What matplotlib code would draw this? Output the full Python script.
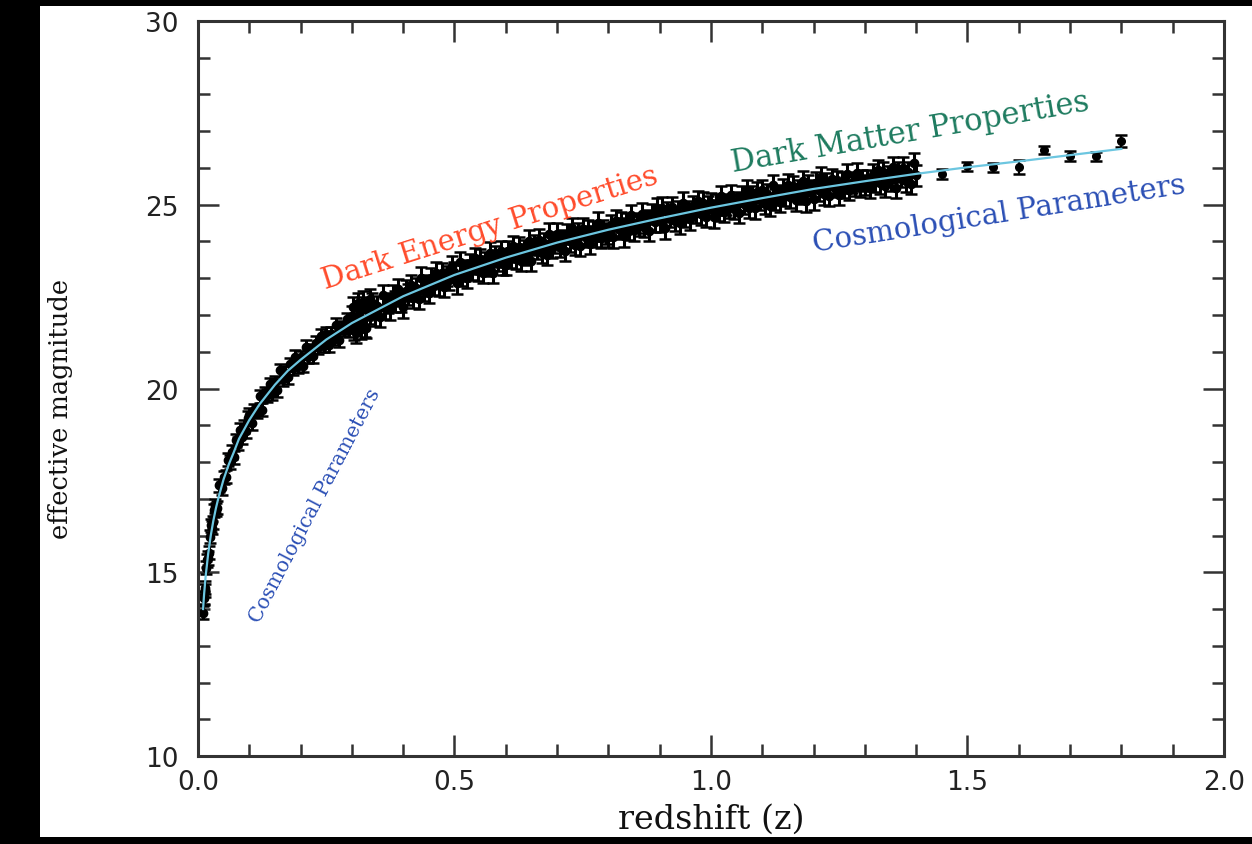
import matplotlib
matplotlib.use("Agg")
import matplotlib.pyplot as plt
from matplotlib.patches import Rectangle
from matplotlib.ticker import MultipleLocator

# model curve
z_curve = [0.010, 0.012, 0.015, 0.020, 0.025, 0.030, 0.035, 0.040, 0.050, 0.060,
           0.070, 0.080, 0.100, 0.120, 0.150, 0.175, 0.200, 0.250, 0.300, 0.400,
           0.500, 0.600, 0.700, 0.800, 0.900, 1.000, 1.100, 1.200, 1.300, 1.400,
           1.500, 1.600, 1.700, 1.800]
m_curve = [14.00, 14.40, 14.89, 15.51, 16.00, 16.40, 16.74, 17.03, 17.53, 17.93,
           18.27, 18.63, 19.14, 19.57, 20.10, 20.48, 20.78, 21.33, 21.78, 22.51,
           23.09, 23.56, 23.97, 24.32, 24.63, 24.92, 25.18, 25.43, 25.64, 25.84,
           26.02, 26.18, 26.35, 26.52]

# nearby supernovae (z < 0.3)
z_near = [0.010, 0.011, 0.012, 0.013, 0.014, 0.016, 0.018, 0.020, 0.022, 0.024,
          0.026, 0.028, 0.030, 0.032, 0.034, 0.036, 0.038, 0.042, 0.046, 0.050,
          0.054, 0.058, 0.062, 0.066, 0.070, 0.074, 0.078, 0.082, 0.086, 0.090,
          0.094, 0.098,
          0.100, 0.105, 0.110, 0.115, 0.120, 0.125, 0.130, 0.135, 0.140, 0.145,
          0.150, 0.155, 0.160, 0.165, 0.170, 0.175, 0.180, 0.185, 0.190, 0.195,
          0.200, 0.205, 0.210, 0.215, 0.220, 0.225, 0.230, 0.235, 0.240, 0.245,
          0.250, 0.255, 0.260, 0.265, 0.270, 0.275, 0.280, 0.285, 0.290, 0.295]
m_near = [13.90, 14.29, 14.32, 14.51, 14.58, 15.12, 15.33, 15.39, 15.53, 15.97,
          16.28, 16.21, 16.36, 16.69, 16.80, 16.70, 16.76, 17.37, 17.28, 17.58,
          17.60, 18.06, 18.00, 18.27, 18.13, 18.59, 18.50, 18.88, 18.68, 18.96,
          18.84, 19.21,
          19.29, 19.05, 19.41, 19.37, 19.79, 19.42, 19.85, 19.81, 20.11, 19.87,
          20.17, 19.96, 20.50, 20.26, 20.43, 20.30, 20.66, 20.55, 20.86, 20.60,
          20.85, 20.62, 21.14, 20.87, 21.03, 20.88, 21.24, 21.12, 21.43, 21.16,
          21.48, 21.18, 21.48, 21.37, 21.74, 21.32, 21.65, 21.62, 21.88, 21.59]
err_near = 0.18

# dense survey sample (0.3 < z < 1.4)
z_survey = [0.300, 0.305, 0.310, 0.315, 0.320, 0.325, 0.330, 0.335, 0.340, 0.345,
            0.350, 0.355, 0.360, 0.365, 0.370, 0.375, 0.380, 0.385, 0.390, 0.395,
            0.400, 0.405, 0.410, 0.415, 0.420, 0.425, 0.430, 0.435, 0.440, 0.445,
            0.450, 0.455, 0.460, 0.465, 0.470, 0.475, 0.480, 0.485, 0.490, 0.495,
            0.500, 0.505, 0.510, 0.515, 0.520, 0.525, 0.530, 0.535, 0.540, 0.545,
            0.550, 0.555, 0.560, 0.565, 0.570, 0.575, 0.580, 0.585, 0.590, 0.595,
            0.600, 0.605, 0.610, 0.615, 0.620, 0.625, 0.630, 0.635, 0.640, 0.645,
            0.650, 0.655, 0.660, 0.665, 0.670, 0.675, 0.680, 0.685, 0.690, 0.695,
            0.700, 0.705, 0.710, 0.715, 0.720, 0.725, 0.730, 0.735, 0.740, 0.745,
            0.750, 0.755, 0.760, 0.765, 0.770, 0.775, 0.780, 0.785, 0.790, 0.795,
            0.800, 0.805, 0.810, 0.815, 0.820, 0.825, 0.830, 0.835, 0.840, 0.845,
            0.850, 0.855, 0.860, 0.865, 0.870, 0.875, 0.880, 0.885, 0.890, 0.895,
            0.900, 0.905, 0.910, 0.915, 0.920, 0.925, 0.930, 0.935, 0.940, 0.945,
            0.950, 0.955, 0.960, 0.965, 0.970, 0.975, 0.980, 0.985, 0.990, 0.995,
            1.000, 1.005, 1.010, 1.015, 1.020, 1.025, 1.030, 1.035, 1.040, 1.045,
            1.050, 1.055, 1.060, 1.065, 1.070, 1.075, 1.080, 1.085, 1.090, 1.095,
            1.100, 1.105, 1.110, 1.115, 1.120, 1.125, 1.130, 1.135, 1.140, 1.145,
            1.150, 1.155, 1.160, 1.165, 1.170, 1.175, 1.180, 1.185, 1.190, 1.195,
            1.200, 1.205, 1.210, 1.215, 1.220, 1.225, 1.230, 1.235, 1.240, 1.245,
            1.250, 1.255, 1.260, 1.265, 1.270, 1.275, 1.280, 1.285, 1.290, 1.295,
            1.300, 1.305, 1.310, 1.315, 1.320, 1.325, 1.330, 1.335, 1.340, 1.345,
            1.350, 1.355, 1.360, 1.365, 1.370, 1.375, 1.380, 1.385, 1.390, 1.395,
            1.400,
            0.302, 0.308, 0.312, 0.318, 0.322, 0.328, 0.335]
m_survey = [21.96, 21.60, 21.91, 21.82, 22.21, 21.68, 22.14, 22.04, 22.32, 21.98,
            22.25, 21.95, 22.54, 22.18, 22.33, 22.15, 22.53, 22.37, 22.70, 22.36,
            22.21, 22.66, 22.55, 22.82, 22.47, 22.74, 22.43, 23.02, 22.65, 22.80,
            22.61, 22.99, 22.82, 23.15, 22.81, 23.13, 22.76, 23.06, 22.96, 23.33,
            23.17, 22.86, 23.44, 23.07, 23.21, 23.02, 23.39, 23.22, 23.54, 23.20,
            23.52, 23.14, 23.43, 23.33, 23.70, 23.15, 23.59, 23.48, 23.74, 23.38,
            23.36, 23.73, 23.55, 23.88, 23.53, 23.85, 23.47, 23.76, 23.65, 24.02,
            23.47, 23.91, 23.79, 24.05, 23.69, 23.95, 23.63, 24.21, 23.83, 23.97,
            24.21, 23.85, 24.04, 23.75, 24.20, 24.00, 24.37, 23.91, 24.21, 23.89,
            24.35, 24.14, 24.31, 23.93, 24.28, 24.13, 24.51, 24.09, 24.30, 24.22,
            24.13, 24.44, 24.11, 24.57, 24.35, 24.53, 24.14, 24.49, 24.33, 24.72,
            24.30, 24.50, 24.42, 24.76, 24.40, 24.58, 24.29, 24.75, 24.54, 24.91,
            24.55, 24.92, 24.36, 24.80, 24.67, 24.93, 24.56, 24.82, 24.49, 25.06,
            24.67, 24.81, 24.60, 24.97, 24.78, 25.10, 24.74, 25.06, 24.67, 24.96,
            25.05, 24.66, 25.01, 24.85, 25.23, 24.81, 25.01, 24.92, 25.26, 24.90,
            25.08, 24.78, 25.24, 25.03, 25.39, 24.92, 25.23, 24.90, 25.35, 25.13,
            25.40, 25.03, 25.28, 24.96, 25.53, 25.14, 25.27, 25.07, 25.43, 25.24,
            25.55, 25.20, 25.51, 25.12, 25.40, 25.29, 25.65, 25.09, 25.52, 25.40,
            25.15, 25.60, 25.39, 25.75, 25.28, 25.58, 25.25, 25.70, 25.48, 25.65,
            25.26, 25.61, 25.45, 25.83, 25.40, 25.60, 25.51, 25.85, 25.48, 25.66,
            25.54, 25.67, 25.46, 25.82, 25.63, 25.94, 25.58, 25.89, 25.50, 25.78,
            25.66, 26.02, 25.46, 25.89, 25.76, 26.01, 25.64, 25.89, 25.56, 26.13,
            25.80,
            22.22, 21.51, 22.33, 21.63, 22.36, 21.65, 22.44]
err_survey = 0.28

# sparse high-redshift points
z_far = [1.45, 1.50, 1.55, 1.60, 1.65, 1.70, 1.75, 1.80]
m_far = [25.84, 26.05, 26.02, 26.02, 26.49, 26.32, 26.32, 26.74]
e_far = [0.13, 0.12, 0.12, 0.19, 0.12, 0.14, 0.12, 0.16]

x_ticks = [0.0, 0.5, 1.0, 1.5, 2.0]
x_ticklabels = ['0.0', '0.5', '1.0', '1.5', '2.0']
y_ticks = [10, 15, 20, 25, 30]
y_ticklabels = ['10', '15', '20', '25', '30']

fig = plt.figure(figsize=(12.52, 8.45), dpi=100, facecolor='black')
fig.patches.append(Rectangle((0.032, 0.0083), 0.968, 0.9834, transform=fig.transFigure,
                             facecolor='white', edgecolor='none', zorder=-5))
ax = fig.add_axes([0.1581, 0.1041, 0.8195, 0.8699])
ax.set_facecolor('white')

eb = dict(fmt='o', ms=6, color='black', ecolor='black', elinewidth=2.2,
          capsize=4, capthick=1.8, zorder=2)
ax.errorbar(z_near, m_near, yerr=err_near, **eb)
ax.errorbar(z_survey, m_survey, yerr=err_survey, **eb)
ax.errorbar(z_far, m_far, yerr=e_far, **dict(eb, elinewidth=1.6, ms=5.5))
ax.plot(z_curve, m_curve, color='#6cc6e0', lw=1.6, zorder=3)

ax.set_xlim(0, 2.0)
ax.set_ylim(10, 30)
ax.set_xticks(x_ticks)
ax.set_xticklabels(x_ticklabels)
ax.set_yticks(y_ticks)
ax.set_yticklabels(y_ticklabels)
ax.xaxis.set_minor_locator(MultipleLocator(0.1))
ax.yaxis.set_minor_locator(MultipleLocator(1))

ax.tick_params(which='both', direction='in', top=True, right=True,
               color='#333333', width=1.8, labelsize=19, labelcolor='#222222')
ax.tick_params(which='major', length=15)
ax.tick_params(which='minor', length=8.5)
ax.tick_params(axis='x', pad=9)
ax.tick_params(axis='y', pad=14)
for lab in ax.get_xticklabels() + ax.get_yticklabels():
    lab.set_family('DejaVu Sans')
for sp in ax.spines.values():
    sp.set_color('#333333')
    sp.set_linewidth(2.2)

ax.set_xlabel('redshift (z)', family='DejaVu Serif', fontsize=24, color='#111111', labelpad=6)
ax.set_ylabel('effective magnitude', family='DejaVu Serif', fontsize=18.5, color='#111111')
ax.yaxis.set_label_coords(-0.122, 0.473)

ax.text(0.569, 24.37, 'Dark Energy Properties', color='#ff4b2b', family='DejaVu Serif',
        fontsize=21, rotation=17.6, ha='center', va='center', rotation_mode='anchor')
ax.text(1.388, 26.98, 'Dark Matter Properties', color='#1e7b5f', family='DejaVu Serif',
        fontsize=22, rotation=9.8, ha='center', va='center', rotation_mode='anchor')
ax.text(1.561, 24.75, 'Cosmological Parameters', color='#2b4fb5', family='DejaVu Serif',
        fontsize=21, rotation=9, ha='center', va='center', rotation_mode='anchor')
ax.text(0.228, 16.83, 'Cosmological Parameters', color='#2b4fb5', family='DejaVu Serif',
        fontsize=14.5, rotation=62.4, ha='center', va='center', rotation_mode='anchor')

fig.savefig('out.png', dpi=100, facecolor=fig.get_facecolor())
